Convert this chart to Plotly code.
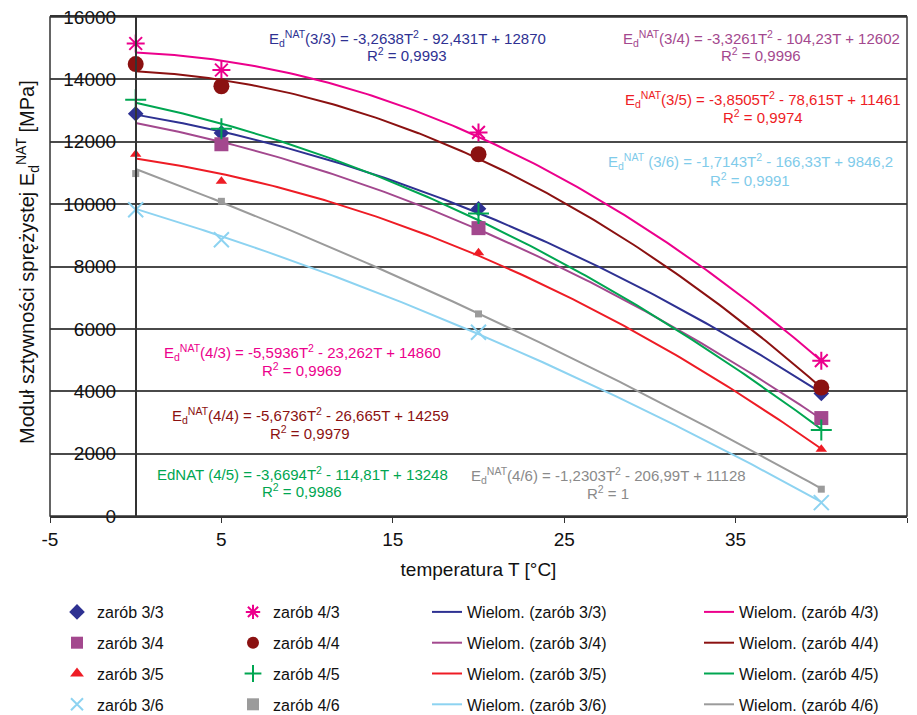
import numpy as np
import plotly.graph_objects as go

# ---------------- data ----------------
T = [0, 5, 20, 40]
series_names = ["zarób 3/3", "zarób 3/4", "zarób 3/5", "zarób 3/6",
                "zarób 4/3", "zarób 4/4", "zarób 4/5", "zarób 4/6"]
z33 = [12900, 12280, 9850, 3930]
z34 = [None, 11920, 9230, 3140]
z35 = [11600, 10730, 8440, 2140]
z36 = [9820, 8860, 5890, 430]
z43 = [15150, 14300, 12300, 4980]
z44 = [14490, 13780, 11600, 4120]
z45 = [13350, 12420, 9700, 2760]
z46 = [10980, 10090, 6480, 860]
values = [z33, z34, z35, z36, z43, z44, z45, z46]

# polynomial trendline coefficients (a, b, c): a*T^2 + b*T + c
c33 = [-3.2638, -92.431, 12870]
c34 = [-3.3261, -104.23, 12602]
c35 = [-3.8505, -78.615, 11461]
c36 = [-1.7143, -166.33, 9846.2]
c43 = [-5.5936, -23.262, 14860]
c44 = [-5.6736, -26.665, 14259]
c45 = [-3.6694, -114.81, 13248]
c46 = [-1.2303, -206.99, 11128]
coefs = [c33, c34, c35, c36, c43, c44, c45, c46]

x_tickvals = [-5, 5, 15, 25, 35, 45]
x_ticktext = ["-5", "5", "15", "25", "35", "45"]
y_tickvals = [0, 2000, 4000, 6000, 8000, 10000, 12000, 14000, 16000]
y_ticktext = ["0", "2000", "4000", "6000", "8000", "10000", "12000", "14000", "16000"]

eq_texts = [
    "E<sub>d</sub><sup>NAT</sup>(3/3) = -3,2638T<sup>2</sup> - 92,431T + 12870",
    "E<sub>d</sub><sup>NAT</sup>(3/4) = -3,3261T<sup>2</sup> - 104,23T + 12602",
    "E<sub>d</sub><sup>NAT</sup>(3/5) = -3,8505T<sup>2</sup> - 78,615T + 11461",
    "E<sub>d</sub><sup>NAT</sup> (3/6) = -1,7143T<sup>2</sup> - 166,33T + 9846,2",
    "E<sub>d</sub><sup>NAT</sup>(4/3) = -5,5936T<sup>2</sup> - 23,262T + 14860",
    "E<sub>d</sub><sup>NAT</sup>(4/4) = -5,6736T<sup>2</sup> - 26,665T + 14259",
    "EdNAT (4/5) = -3,6694T<sup>2</sup> - 114,81T + 13248",
    "E<sub>d</sub><sup>NAT</sup>(4/6) = -1,2303T<sup>2</sup> - 206,99T + 11128",
]
r2_texts = ["R<sup>2</sup> = 0,9993", "R<sup>2</sup> = 0,9996", "R<sup>2</sup> = 0,9974",
            "R<sup>2</sup> = 0,9991", "R<sup>2</sup> = 0,9969", "R<sup>2</sup> = 0,9979",
            "R<sup>2</sup> = 0,9986", "R<sup>2</sup> = 1"]

# ---------------- styles ----------------
colors = ["#2E3192", "#A3488E", "#EE1C25", "#8DD3F1",
          "#EC008C", "#8B1111", "#00A651", "#9B9B9B"]
text_colors = ["#2E3192", "#A3488E", "#EE1C25", "#7FCBEA",
               "#EC008C", "#8B1111", "#00A651", "#8A8A8A"]
symbols = ["diamond", "square", "triangle-up", "x-thin-open",
           "asterisk-open", "circle", "cross-thin-open", "square"]
sizes = [12, 14, 10, 15, 15, 16, 15, 7]

FONT = "Liberation Sans, Arial, sans-serif"
L, R, TOP, BOT = 50, 907, 17, 516
W, H = 917, 715


def px(xp):
    return (xp - L) / (R - L)


def py(yp):
    return (BOT - yp) / (BOT - TOP)


fig = go.Figure()

Tc = np.linspace(0, 40, 161)
# trendlines first
for i in range(8):
    a, b, c = coefs[i]
    fig.add_trace(go.Scatter(
        x=Tc, y=a * Tc ** 2 + b * Tc + c, mode="lines",
        line=dict(color=colors[i], width=2),
        name="Wielom. (" + series_names[i] + ")",
        legend="legend3" if i < 4 else "legend4",
        legendgroup="l%d" % i, hoverinfo="skip"))

# markers
for i in range(8):
    open_sym = symbols[i].endswith("open")
    fig.add_trace(go.Scatter(
        x=T, y=values[i], mode="markers",
        marker=dict(symbol=symbols[i], size=sizes[i], color=colors[i],
                    line=dict(color=colors[i], width=2 if open_sym else 0)),
        name=series_names[i],
        legend="legend" if i < 4 else "legend2",
        legendgroup="m%d" % i))

# equation annotations: (center x px, first line y px, second line y px)
eq_pos = [(407, 38, 55), (761, 38, 55), (763, 99, 117), (750, 162, 179),
          (302, 352, 369), (310, 415, 432), (302, 473, 490), (608, 475, 492)]
annotations = []
for i in range(8):
    cx, y1, y2 = eq_pos[i]
    annotations.append(dict(x=px(cx), y=py(y1), xref="paper", yref="paper",
                            text=eq_texts[i], showarrow=False, xanchor="center",
                            yanchor="middle",
                            font=dict(family=FONT, size=15, color=text_colors[i])))
    annotations.append(dict(x=px(cx), y=py(y2), xref="paper", yref="paper",
                            text=r2_texts[i], showarrow=False, xanchor="center",
                            yanchor="middle",
                            font=dict(family=FONT, size=15, color=text_colors[i])))

# y-axis title as rotated annotation
annotations.append(dict(x=px(27), y=py(262), xref="paper", yref="paper",
                        text="Moduł sztywności sprężystej E<sub>d</sub><sup>NAT</sup> [MPa]",
                        textangle=-90, showarrow=False, xanchor="center", yanchor="middle",
                        font=dict(family=FONT, size=20, color="#111111")))

legend_common = dict(orientation="v", bgcolor="rgba(0,0,0,0)", borderwidth=0,
                     font=dict(family=FONT, size=16, color="#111111"),
                     tracegroupgap=7, yanchor="top", xanchor="left",
                     itemclick=False, itemdoubleclick=False)
leg_y = py(595)

fig.update_layout(
    width=W, height=H,
    margin=dict(l=L, r=W - R, t=TOP, b=H - BOT, autoexpand=False),
    paper_bgcolor="white", plot_bgcolor="white",
    font=dict(family=FONT, size=19, color="#111111"),
    showlegend=True,
    legend=dict(x=px(57), y=leg_y, itemsizing="constant", **legend_common),
    legend2=dict(x=px(233), y=leg_y, itemsizing="constant", **legend_common),
    legend3=dict(x=px(427), y=leg_y, **legend_common),
    legend4=dict(x=px(699), y=leg_y, **legend_common),
    annotations=annotations,
    shapes=[dict(type="rect", xref="paper", yref="paper", x0=0, x1=1, y0=0, y1=1,
                 line=dict(color="#333333", width=1.5), layer="above")],
    xaxis=dict(range=[-5, 45], tickvals=x_tickvals, ticktext=x_ticktext,
               showgrid=False, zeroline=False,
               ticks="outside", ticklen=5, tickcolor="#333333", showline=True,
               linecolor="#333333", linewidth=1.5, mirror=True,
               tickfont=dict(family=FONT, size=19, color="#111111"),
               title=dict(text="temperatura T [°C]", standoff=14,
                          font=dict(family=FONT, size=19, color="#111111"))),
    yaxis=dict(range=[0, 16000], tickvals=y_tickvals, ticktext=y_ticktext,
               anchor="free", position=0.1,
               showgrid=True, gridcolor="#4a4a4a", gridwidth=1.5, zeroline=False,
               showline=True, linecolor="#333333", linewidth=1.5, ticks="",
               ticklabelstandoff=15,
               tickfont=dict(family=FONT, size=19, color="#111111")),
)

fig.write_html("out.html")
